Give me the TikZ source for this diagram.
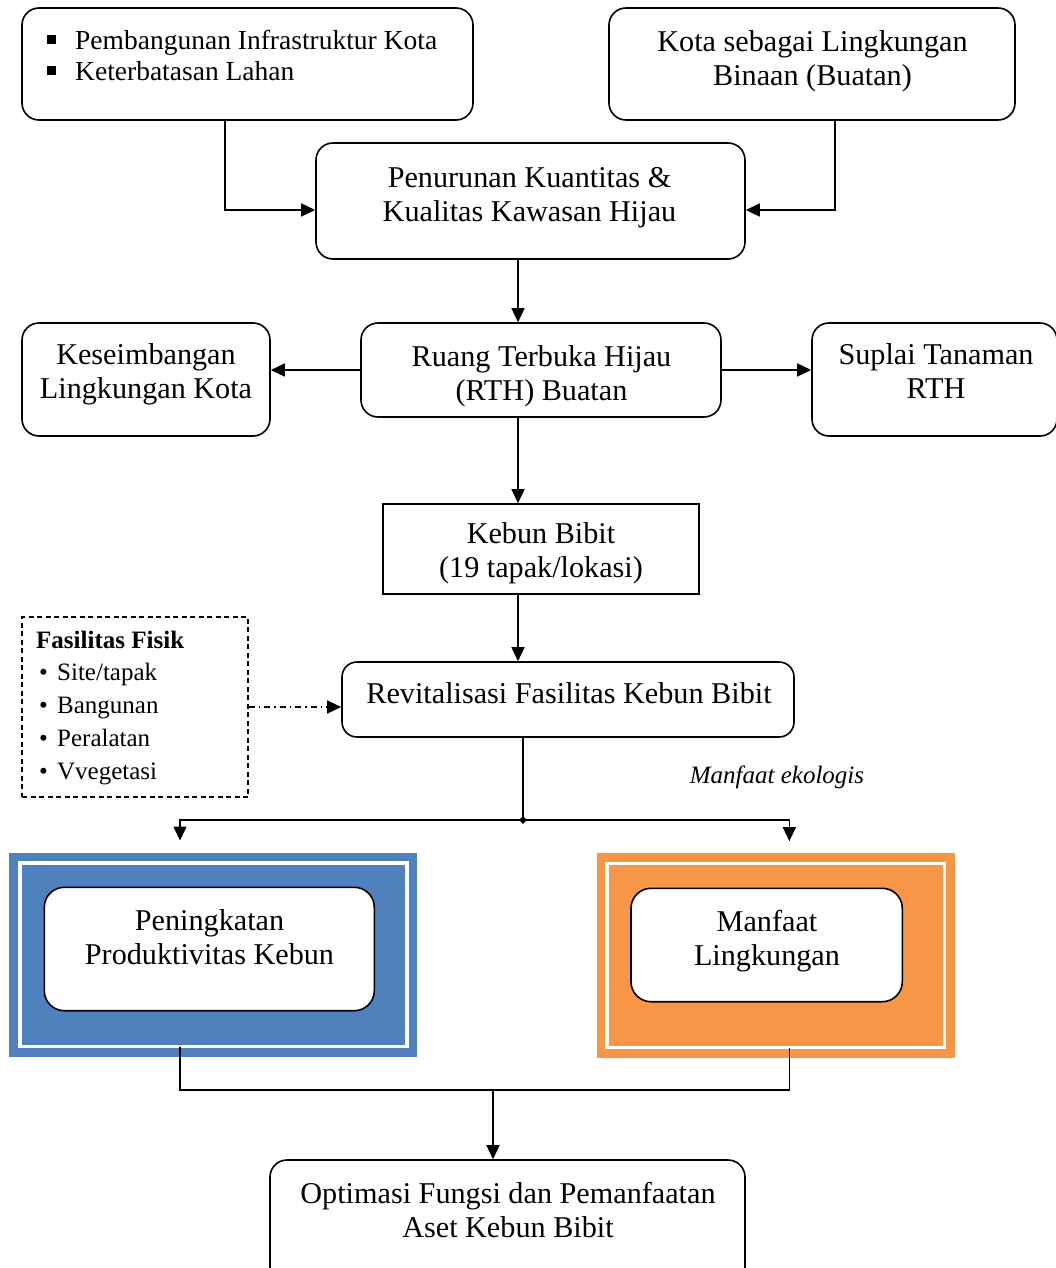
\documentclass[tikz,border=0pt]{standalone}
\usepackage{fontspec}
\setmainfont{Liberation Serif}
\usetikzlibrary{arrows.meta,shapes.geometric}
\definecolor{accentblue}{HTML}{4F81BD}
\definecolor{accentorange}{HTML}{F79646}

\begin{document}
\begin{tikzpicture}[x=1pt,y=-1pt,
  frame/.style={draw, line width=1.6pt, rounded corners=17pt, inner sep=0pt},
  plainframe/.style={draw, line width=1.6pt, inner sep=0pt},
  dashframe/.style={draw, line width=1.3pt, dash pattern=on 5pt off 3.5pt, inner sep=0pt},
  colorframe/.style={inner sep=0pt, draw=none},
  rim/.style={draw=white, line width=3.2pt, inner sep=0pt},
  txt/.style={align=center, inner sep=0pt, anchor=north, font=\fontsize{30.2}{34.5}\selectfont},
  ln/.style={line width=1.5pt},
  arr/.style={line width=1.5pt, -{Triangle[length=14pt,width=13pt]}},
  dasharr/.style={line width=1.3pt, dash pattern=on 6pt off 4pt on 1.5pt off 4pt,
                  -{Triangle[length=14pt,width=13pt]}}]
\useasboundingbox (0,0) rectangle (1055,1268);

% ---- top row ----
\node[frame, minimum width=451pt, minimum height=112pt] (causes) at (247.5,64) {};
\node[inner sep=0pt, anchor=north west, align=left, font=\fontsize{27.5}{31}\selectfont] (causestxt) at (47,27.3)
  {\strut\rule[5pt]{9pt}{9pt}\hspace{19pt}Pembangunan Infrastruktur Kota\\
   \strut\rule[5pt]{9pt}{9pt}\hspace{19pt}Keterbatasan Lahan};

\node[frame, minimum width=406pt, minimum height=112pt] (city) at (812,64) {};
\node[txt] (citytxt) at (812.5,26.85) {\strut Kota sebagai Lingkungan\\\strut Binaan (Buatan)};

\node[frame, minimum width=429pt, minimum height=116pt] (decline) at (530.5,201) {};
\node[txt] (declinetxt) at (529.5,162.85) {\strut Penurunan Kuantitas \&\\\strut Kualitas Kawasan Hijau};

% ---- RTH row ----
\node[frame, minimum width=360pt, minimum height=94pt] (rth) at (541,370) {};
\node[txt] (rthtxt) at (541.5,341.85) {\strut Ruang Terbuka Hijau\\\strut (RTH) Buatan};

\node[frame, minimum width=248pt, minimum height=113pt] (balance) at (146,379.5) {};
\node[txt] (balancetxt) at (146,339.85) {\strut Keseimbangan\\\strut Lingkungan Kota};

\node[frame, minimum width=245pt, minimum height=113pt] (supply) at (934.5,379.5) {};
\node[txt] (supplytxt) at (936,339.85) {\strut Suplai Tanaman\\\strut RTH};

% ---- nursery ----
\node[plainframe, minimum width=316pt, minimum height=90pt] (nursery) at (541,549) {};
\node[txt] (nurserytxt) at (541,518.85) {\strut Kebun Bibit\\\strut (19 tapak/lokasi)};

\node[frame, rounded corners=15pt, minimum width=452pt, minimum height=75pt] (revital) at (568,699.5) {};
\node[inner sep=0pt, anchor=base, font=\fontsize{30.2}{34.5}\selectfont] (revitaltxt) at (569,703)
  {Revitalisasi Fasilitas Kebun Bibit};

\node[dashframe, minimum width=226pt, minimum height=180pt] (facil) at (135,707) {};
\node[inner sep=0pt, anchor=north west, align=left, font=\fontsize{25}{32.75}\selectfont] (faciltxt) at (36,625.1)
  {\strut\textbf{Fasilitas Fisik}\\
   \strut\makebox[21pt][l]{\hspace{3pt}\textbullet}Site/tapak\\
   \strut\makebox[21pt][l]{\hspace{3pt}\textbullet}Bangunan\\
   \strut\makebox[21pt][l]{\hspace{3pt}\textbullet}Peralatan\\
   \strut\makebox[21pt][l]{\hspace{3pt}\textbullet}Vvegetasi};

\node[inner sep=0pt, anchor=base, font=\fontsize{25}{30}\selectfont\itshape] (ecolabel) at (777,783)
  {Manfaat ekologis};

% ---- outcome frames ----
\node[colorframe, fill=accentblue, minimum width=407.4pt, minimum height=204.6pt] (blue) at (213,955) {};
\node[rim, minimum width=387pt, minimum height=183.5pt] (bluerim) at (213.5,954.75) {};
\node[frame, fill=white, rounded corners=20pt, minimum width=330pt, minimum height=123.4pt] (prod) at (209.3,949) {};
\node[txt] (prodtxt) at (209.5,905.85) {\strut Peningkatan\\\strut Produktivitas Kebun};

\node[colorframe, fill=accentorange, minimum width=358.3pt, minimum height=205pt] (orange) at (775.85,955.8) {};
\node[rim, minimum width=337.7pt, minimum height=184.4pt] (orangerim) at (775.85,955.5) {};
\node[frame, fill=white, rounded corners=20pt, minimum width=271.3pt, minimum height=113.4pt] (env) at (766.65,945) {};
\node[txt] (envtxt) at (767,906.85) {\strut Manfaat\\\strut Lingkungan};

% ---- final ----
\node[frame, minimum width=475pt, minimum height=130pt] (optim) at (507.5,1225) {};
\node[txt] (optimtxt) at (508,1178.85) {\strut Optimasi Fungsi dan Pemanfaatan\\\strut Aset Kebun Bibit};

% ---- connectors ----
\draw[arr] ([xshift=-22.5pt]causes.south) |- ([yshift=-9pt]decline.west);
\draw[arr] ([xshift=23pt]city.south) |- ([yshift=-9pt]decline.east);
\draw[arr] ([xshift=-12.5pt]decline.south) -- ([xshift=-12.5pt]decline.south |- rth.north);
\draw[arr] (rth.west) -- (rth.west -| balance.east);
\draw[arr] (rth.east) -- (rth.east -| supply.west);
\draw[arr] ([xshift=-23pt]rth.south) -- ([xshift=-23pt]rth.south |- nursery.north);
\draw[arr] ([xshift=-23pt]nursery.south) -- ([xshift=-23pt]nursery.south |- revital.north);
\draw[dasharr] (facil.east) -- (facil.east -| revital.west);

\node[diamond, fill, inner sep=0pt, minimum size=8pt] (split) at (523,820) {};
\draw[ln] ([xshift=-45pt]revital.south) -- (split.center);
\draw[arr] (split.center) -| ([xshift=-33pt,yshift=12pt]blue.north);
\draw[arr] (split.center) -| ([xshift=13.5pt,yshift=12pt]orange.north);

\coordinate (mergeL) at (180,1090);
\coordinate (mergeR) at (789.5,1090);
\coordinate (merge) at (493,1090);
\draw[ln] ([xshift=-33pt,yshift=11pt]blue.south) -- (mergeL) -- (mergeR)
          -- ([xshift=13.65pt,yshift=11pt]orange.south);
\draw[arr] (merge) -- (merge |- optim.north);
\end{tikzpicture}
\end{document}
